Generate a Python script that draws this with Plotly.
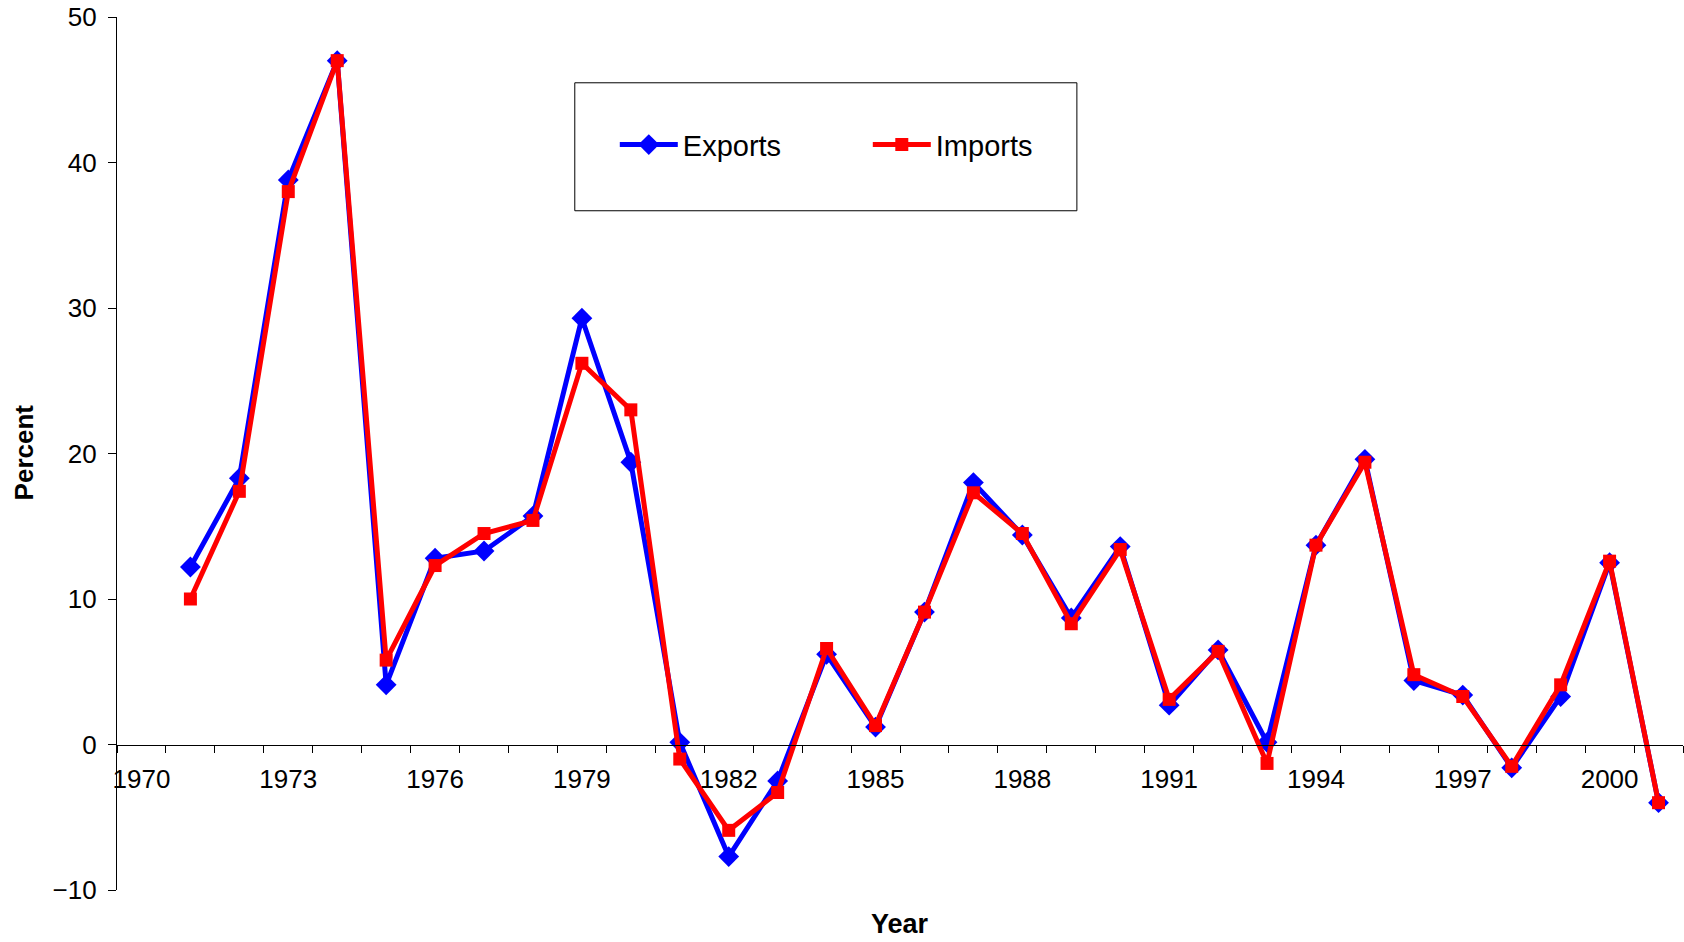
import plotly.graph_objects as go

years = list(range(1971, 2002))
exports = [12.2, 18.3, 38.8, 47.0, 4.1, 12.8, 13.3, 15.7, 29.3, 19.4,
           0.15, -7.7, -2.5, 6.2, 1.2, 9.1, 18.0, 14.4, 8.7, 13.6,
           2.7, 6.5, 0.15, 13.7, 19.6, 4.4, 3.4, -1.6, 3.3, 12.5, -4.0]
imports = [10.0, 17.4, 38.0, 47.0, 5.8, 12.3, 14.5, 15.4, 26.2, 23.0,
           -1.0, -5.9, -3.3, 6.6, 1.3, 9.1, 17.3, 14.5, 8.3, 13.4,
           3.1, 6.4, -1.3, 13.7, 19.4, 4.8, 3.3, -1.5, 4.1, 12.6, -4.0]
tick_years = list(range(1970, 2001, 3))
y_ticks = [-10, 0, 10, 20, 30, 40, 50]

FONT = "Liberation Sans, Arial, sans-serif"

# plot area in window pixels (page body margin removed below)
PX0, PX1, PY0, PY1 = 117.3, 1683.0, 17.2, 890.4
OFF = 0
W, H = 1684, 942
PW, PH = PX1 - PX0, PY1 - PY0


def fx(x):
    return (x - PX0) / PW


def fy(y):
    return (PY1 - y) / PH


fig = go.Figure()
fig.add_trace(go.Scatter(
    x=years, y=exports, name="Exports", mode="lines+markers",
    line=dict(color="#0000FF", width=5),
    marker=dict(symbol="diamond", size=16, color="#0000FF"),
))
fig.add_trace(go.Scatter(
    x=years, y=imports, name="Imports", mode="lines+markers",
    line=dict(color="#FF0000", width=5),
    marker=dict(symbol="square", size=13, color="#FF0000"),
))

fig.update_layout(
    width=W, height=H,
    margin=dict(l=PX0 - OFF, r=W - (PX1 - OFF), t=PY0 - OFF, b=H - (PY1 - OFF),
                pad=0, autoexpand=False),
    paper_bgcolor="white", plot_bgcolor="white",
    font=dict(family=FONT, color="black", size=26),
    showlegend=True,
    legend=dict(
        orientation="h", x=fx(615), xanchor="left", y=fy(145), yanchor="middle",
        bgcolor="rgba(0,0,0,0)", borderwidth=0,
        font=dict(size=29, family=FONT),
        itemwidth=58,
        entrywidth=180, entrywidthmode="pixels",
        itemsizing="trace",
    ),
    xaxis=dict(
        range=[1969.5, 2001.5], tickmode="array", tickvals=tick_years,
        ticktext=[str(t) for t in tick_years],
        ticks="", showgrid=False, zeroline=False,
        showline=True, linecolor="black", linewidth=1.3,
        anchor="free", position=1/6,
        tickfont=dict(size=26),
        ticklabelstandoff=11,
        ticklabeloverflow="allow",
        automargin=False,
        minor=dict(tickmode="linear", tick0=1969.5, dtick=1, ticks="outside",
                   ticklen=7, tickcolor="black", tickwidth=1, showgrid=False),
    ),
    yaxis=dict(
        range=[-10, 50], tickmode="array", tickvals=y_ticks,
        ticks="outside", ticklen=8, tickcolor="black",
        showgrid=False, zeroline=False,
        showline=True, linecolor="black", linewidth=1.3,
        tickfont=dict(size=26),
        ticklabelstandoff=6,
        ticklabeloverflow="allow",
        automargin=False,
    ),
    shapes=[dict(
        type="rect", xref="paper", yref="paper",
        x0=fx(575), x1=fx(1077), y0=fy(211), y1=fy(83),
        line=dict(color="black", width=1), fillcolor="rgba(0,0,0,0)",
    )],
    annotations=[
        dict(text="<b>Year</b>", xref="paper", yref="paper",
             x=fx(900), y=fy(924),
             xanchor="center", yanchor="middle", showarrow=False,
             font=dict(size=27, family=FONT)),
        dict(text="<b>Percent</b>", xref="paper", yref="paper",
             x=fx(24), y=fy(453),
             xanchor="center", yanchor="middle", showarrow=False,
             textangle=-90, font=dict(size=26, family=FONT)),
    ],
)

fig.write_html("out.html",
               config={"displayModeBar": False},
               post_script="document.body.style.margin='0';document.body.style.overflow='hidden';")
